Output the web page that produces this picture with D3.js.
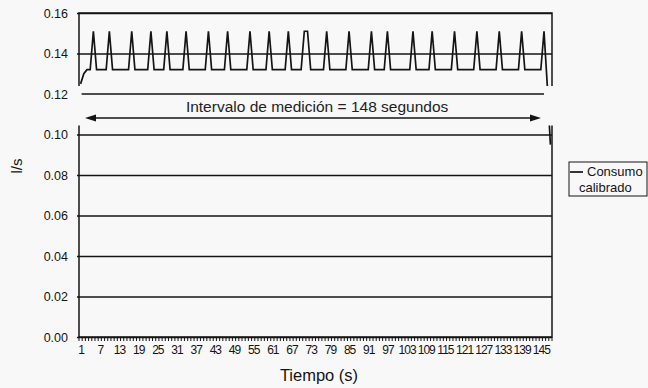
<!DOCTYPE html>
<html>
<head>
<meta charset="utf-8">
<script src="https://cdn.jsdelivr.net/npm/d3@7"></script>
<style>
  body { margin: 0; background: #f8f8f8; }
  svg { display: block; font-family: "Liberation Sans", Arial, sans-serif; }
</style>
</head>
<body>
<div id="chart"></div>
<script>
// seconds 1..148
var times = d3.range(1, 149);

var consumo = [
  0.125, 0.130, 0.132, 0.132, 0.151, 0.132, 0.132, 0.132, 0.132, 0.151,
  0.132, 0.132, 0.132, 0.132, 0.132, 0.132, 0.151, 0.132, 0.132, 0.132,
  0.132, 0.132, 0.151, 0.132, 0.132, 0.132, 0.132, 0.151, 0.132, 0.132,
  0.132, 0.132, 0.132, 0.151, 0.132, 0.132, 0.132, 0.132, 0.132, 0.132,
  0.151, 0.132, 0.132, 0.132, 0.132, 0.132, 0.151, 0.132, 0.132, 0.132,
  0.132, 0.132, 0.132, 0.151, 0.132, 0.132, 0.132, 0.132, 0.132, 0.151,
  0.132, 0.132, 0.132, 0.132, 0.132, 0.151, 0.132, 0.132, 0.132, 0.132,
  0.151, 0.151, 0.132, 0.132, 0.132, 0.132, 0.132, 0.151, 0.132, 0.132,
  0.132, 0.132, 0.132, 0.132, 0.151, 0.132, 0.132, 0.132, 0.132, 0.132,
  0.132, 0.151, 0.132, 0.132, 0.132, 0.132, 0.151, 0.132, 0.132, 0.132,
  0.132, 0.132, 0.132, 0.132, 0.151, 0.132, 0.132, 0.132, 0.132, 0.132,
  0.151, 0.132, 0.132, 0.132, 0.132, 0.132, 0.132, 0.151, 0.132, 0.132,
  0.132, 0.132, 0.132, 0.132, 0.151, 0.132, 0.132, 0.132, 0.132, 0.132,
  0.132, 0.151, 0.132, 0.132, 0.132, 0.132, 0.132, 0.132, 0.151, 0.132,
  0.132, 0.132, 0.132, 0.132, 0.132, 0.151, 0.125, 0.095
];

var xLabels = d3.range(1, 149, 6);          // 1, 7, 13 ... 145
var yTicks = [0, 0.02, 0.04, 0.06, 0.08, 0.10, 0.12, 0.14, 0.16];
var legendLabel = ["Consumo", "calibrado"];
var notaTexto = "Intervalo de medición = 148 segundos";
var intervalo = [3, 146];                    // extremos de la flecha (s)

var margin = {top: 13, right: 96, bottom: 51, left: 79},
    width = 648 - margin.left - margin.right,
    height = 388 - margin.top - margin.bottom;

var ink = "#141414";

var svg = d3.select("#chart").append("svg")
    .attr("width", 648)
    .attr("height", 388);

var g = svg.append("g")
    .attr("transform", "translate(" + margin.left + "," + margin.top + ")");

var x = d3.scaleBand().domain(times).range([0, width]);
var xc = function(t) { return x(t) + x.bandwidth() / 2; };
var y = d3.scaleLinear().domain([0, 0.16]).range([height, 0]);

// gridlines + y labels
var yAxis = g.append("g")
    .call(d3.axisLeft(y).tickValues(yTicks).tickSize(-width).tickPadding(11)
      .tickFormat(d3.format(".2f")));
yAxis.select(".domain").remove();
yAxis.selectAll("line").attr("stroke", ink).attr("stroke-width", 1.5).attr("x1", -2);
yAxis.selectAll("text").attr("fill", ink).style("font-size", "12.5px");

// frame
g.append("rect")
    .attr("width", width).attr("height", height)
    .attr("fill", "none").attr("stroke", ink).attr("stroke-width", 1.5);

// series
var line = d3.line()
    .x(function(d, i) { return xc(times[i]); })
    .y(function(d) { return y(d); });

g.append("path")
    .datum(consumo)
    .attr("d", line)
    .attr("fill", "none")
    .attr("stroke", ink)
    .attr("stroke-width", 1.7)
    .attr("stroke-linejoin", "miter");

// minor ticks at category borders
g.append("g").selectAll("line")
    .data(times.concat([null]))
    .enter().append("line")
    .attr("x1", function(t) { return t === null ? width : x(t); })
    .attr("x2", function(t) { return t === null ? width : x(t); })
    .attr("y1", height).attr("y2", height + 4)
    .attr("stroke", ink).attr("stroke-width", 1);

// x labels
var xPts = d3.scalePoint().domain(times).range([xc(1), xc(148)]);
var xAxis = g.append("g")
    .attr("transform", "translate(0," + height + ")")
    .call(d3.axisBottom(xPts).tickValues(xLabels).tickSize(0).tickPadding(8));
xAxis.select(".domain").remove();
xAxis.selectAll("text").attr("fill", ink)
    .style("font-size", "12px").style("letter-spacing", "-1px");

// annotation box over the plot
var boxTop = y(0.12) - 8, boxBot = y(0.10) - 9;
g.append("rect")
    .attr("x", -8).attr("y", boxTop)
    .attr("width", width + 16).attr("height", boxBot - boxTop)
    .attr("fill", "#f8f8f8");

g.append("line")
    .attr("x1", xc(1) + 1).attr("x2", xc(146))
    .attr("y1", y(0.12)).attr("y2", y(0.12))
    .attr("stroke", ink).attr("stroke-width", 1.5);

g.append("text")
    .attr("x", xc(75)).attr("y", y(0.12) + 18)
    .attr("text-anchor", "middle")
    .attr("fill", "#222")
    .style("font-size", "15.5px")
    .text(notaTexto);

var ay = y(0.12) + 24;
var x0 = xc(intervalo[0]) - 2, x1 = xc(intervalo[1]) - 3;
g.append("line")
    .attr("x1", x0 + 6).attr("x2", x1 - 6)
    .attr("y1", ay).attr("y2", ay)
    .attr("stroke", ink).attr("stroke-width", 1.5);
g.append("path")
    .attr("d", "M" + x0 + "," + ay + "l11,-3.5v7z")
    .attr("fill", ink);
g.append("path")
    .attr("d", "M" + x1 + "," + ay + "l-11,-3.5v7z")
    .attr("fill", ink);

// axis titles
svg.append("text")
    .attr("transform", "translate(22,166) rotate(-90)")
    .attr("text-anchor", "middle")
    .attr("fill", ink)
    .style("font-size", "15px")
    .text("l/s");

svg.append("text")
    .attr("x", 319).attr("y", 381)
    .attr("text-anchor", "middle")
    .attr("fill", ink)
    .style("font-size", "16.5px")
    .text("Tiempo (s)");

// legend
var lg = svg.append("g").attr("transform", "translate(569,162)");
lg.append("rect")
    .attr("width", 78).attr("height", 34)
    .attr("fill", "#f8f8f8").attr("stroke", ink).attr("stroke-width", 1);
lg.append("line")
    .attr("x1", 1).attr("x2", 14).attr("y1", 10).attr("y2", 10)
    .attr("stroke", ink).attr("stroke-width", 1.7);
lg.selectAll("text.lab")
    .data(legendLabel)
    .enter().append("text")
    .attr("class", "lab")
    .attr("x", function(d, i) { return i === 0 ? 18 : 10; })
    .attr("y", function(d, i) { return 14 + i * 16; })
    .attr("fill", ink)
    .style("font-size", "13px")
    .text(function(d) { return d; });
</script>
</body>
</html>
